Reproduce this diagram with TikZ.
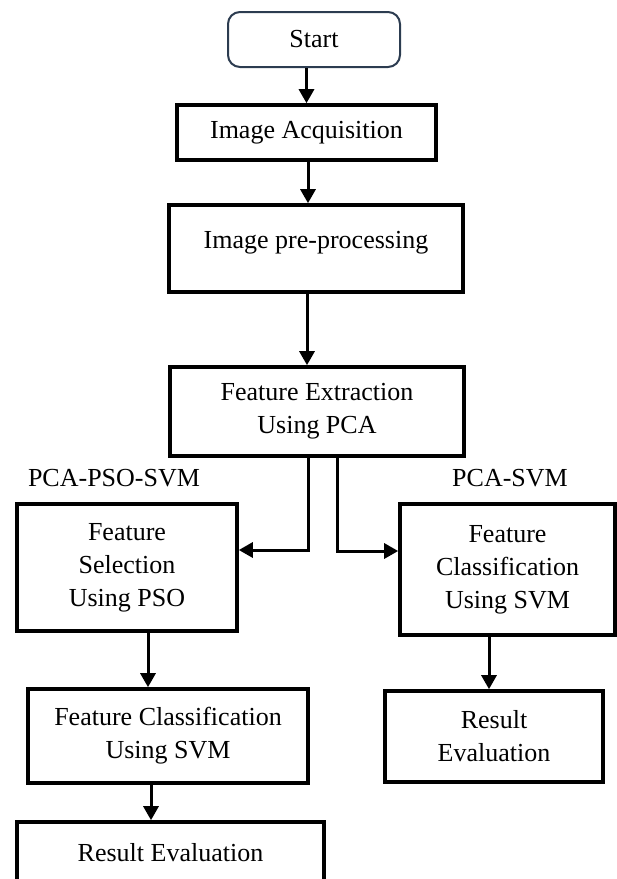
\documentclass[tikz,border=0pt]{standalone}
\usepackage{fontspec}
\setmainfont{Liberation Serif}
\usetikzlibrary{arrows.meta}
\definecolor{startline}{RGB}{44,60,80}
\tikzset{
  stepbox/.style={draw=black, line width=3.6pt, rectangle, align=center,
    inner sep=0pt, font=\fontsize{26}{33}\selectfont},
  startbox/.style={draw=startline, line width=2pt, rectangle, rounded corners=12pt,
    inner sep=0pt, font=\fontsize{26}{33}\selectfont},
  tag/.style={inner sep=0pt, font=\fontsize{26}{33}\selectfont},
  flow/.style={line width=3pt, -{Triangle[length=14pt,width=15pt]}}
}
\begin{document}
\begin{tikzpicture}[x=1pt, y=-1pt]
\useasboundingbox (0,0) rectangle (617,879);

% process boxes
\node[startbox, minimum width=172pt, minimum height=55pt] (start) at (314,39.5) {Start};
\node[stepbox, minimum width=259pt, minimum height=55pt] (ia) at (306.5,132.5) {Image Acquisition};
\node[stepbox, minimum width=294pt, minimum height=87pt, text height=18pt, text depth=18pt] (pre) at (316,248.5) {Image pre-processing};
\node[stepbox, minimum width=294pt, minimum height=89pt] (fe) at (317,411.5) {Feature Extraction\\Using PCA};

% branch labels
\node[tag] (lab1) at (114,478) {PCA-PSO-SVM};
\node[tag] (lab2) at (510,478) {PCA-SVM};

% left branch
\node[stepbox, minimum width=220pt, minimum height=127pt] (fs) at (127,567.5) {Feature\\Selection\\Using PSO};
\node[stepbox, minimum width=280pt, minimum height=94pt] (fcl) at (168,736) {Feature Classification\\Using SVM};
\node[stepbox, minimum width=307pt, minimum height=62pt] (rel) at (170.5,853) {Result Evaluation};

% right branch
\node[stepbox, minimum width=215pt, minimum height=131pt] (fcr) at (507.5,569.5) {Feature\\Classification\\Using SVM};
\node[stepbox, minimum width=218pt, minimum height=91pt] (rer) at (494,736.5) {Result\\Evaluation};

% connectors
\draw[flow] (start.south -| ia.north) -- (ia.north);
\draw[flow] ([xshift=1.5pt]ia.south) -- ([xshift=1.5pt]ia.south |- pre.north);
\draw[flow] ([xshift=-9pt]pre.south) -- ([xshift=-9pt]pre.south |- fe.north);
\draw[flow] ([xshift=-9pt]fe.south) |- ([yshift=17.5pt]fs.east);
\draw[flow] ([xshift=20pt]fe.south) |- ([yshift=18.5pt]fcr.west);
\draw[flow] ([xshift=21pt]fs.south) -- ([xshift=21pt]fs.south |- fcl.north);
\draw[flow] ([xshift=-17pt]fcl.south) -- ([xshift=-17pt]fcl.south |- rel.north);
\draw[flow] ([xshift=-18.5pt]fcr.south) -- ([xshift=-18.5pt]fcr.south |- rer.north);
\end{tikzpicture}
\end{document}
